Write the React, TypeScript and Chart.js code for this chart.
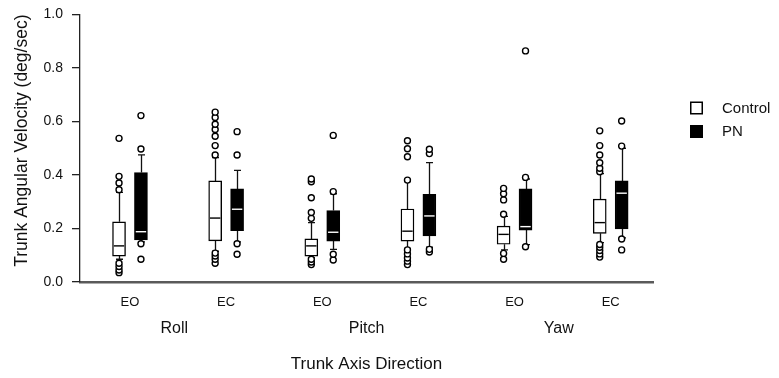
import React, { useEffect, useRef } from 'react';
import { Chart, registerables } from 'chart.js';

Chart.register(...registerables);

// ---- data ----
const conditions = ['EO', 'EC', 'EO', 'EC', 'EO', 'EC'];
const conditionPositions = [0, 1, 2, 3, 4, 5];
const groups = ['Roll', 'Pitch', 'Yaw'];
const groupPositions = [0.46, 2.46, 4.46];
const yTickValues = [0, 0.2, 0.4, 0.6, 0.8, 1.0];

const controlLow = [0.085, 0.115, 0.09, 0.126, 0.12, 0.147];
const controlQ1 = [0.097, 0.154, 0.097, 0.153, 0.141, 0.182];
const controlMedian = [0.135, 0.239, 0.135, 0.19, 0.178, 0.222];
const controlQ3 = [0.225, 0.378, 0.161, 0.273, 0.209, 0.31];
const controlHigh = [0.335, 0.465, 0.222, 0.375, 0.245, 0.405];
const controlOutliers = [
  [0.035, 0.045, 0.058, 0.07, 0.345, 0.37, 0.395, 0.537],
  [0.07, 0.085, 0.097, 0.108, 0.475, 0.51, 0.545, 0.57, 0.59, 0.615, 0.635],
  [0.065, 0.075, 0.085, 0.238, 0.26, 0.315, 0.375, 0.385],
  [0.065, 0.078, 0.09, 0.105, 0.12, 0.381, 0.468, 0.498, 0.528],
  [0.085, 0.107, 0.253, 0.307, 0.33, 0.35],
  [0.093, 0.105, 0.118, 0.13, 0.14, 0.412, 0.425, 0.446, 0.475, 0.51, 0.565],
];

const pnLow = [0.15, 0.15, 0.122, 0.13, 0.14, 0.165];
const pnQ1 = [0.157, 0.192, 0.153, 0.172, 0.194, 0.198];
const pnMedian = [0.188, 0.272, 0.186, 0.247, 0.207, 0.332];
const pnQ3 = [0.409, 0.348, 0.267, 0.328, 0.348, 0.378];
const pnHigh = [0.475, 0.417, 0.33, 0.446, 0.385, 0.5];
const pnOutliers = [
  [0.085, 0.143, 0.497, 0.622],
  [0.104, 0.143, 0.475, 0.562],
  [0.082, 0.104, 0.338, 0.548],
  [0.112, 0.122, 0.48, 0.496],
  [0.132, 0.391, 0.864],
  [0.12, 0.161, 0.508, 0.602],
];

const seriesNames = ['Control', 'PN'];

// ---- styling ----
const FONT = "'Liberation Sans', Arial, Helvetica, sans-serif";
const GROUP_OFFSET = 0.114;

const series = [
  { name: seriesNames[0], offset: -GROUP_OFFSET, low: controlLow, q1: controlQ1, median: controlMedian, q3: controlQ3, high: controlHigh, outliers: controlOutliers, fill: '#ffffff', medianColor: '#000000' },
  { name: seriesNames[1], offset: GROUP_OFFSET, low: pnLow, q1: pnQ1, median: pnMedian, q3: pnQ3, high: pnHigh, outliers: pnOutliers, fill: '#000000', medianColor: '#ffffff' },
];

const boxPlugin = {
  id: 'boxWhiskers',
  beforeDatasetsDraw(chart: any) {
    const { ctx, scales } = chart;
    const x = scales.x;
    const y = scales.y;
    ctx.save();
    ctx.strokeStyle = '#111';
    ctx.lineWidth = 1.3;
    const cap = 3.5;
    series.forEach((s) => {
      conditionPositions.forEach((p, i) => {
        const px = Math.round(x.getPixelForValue(p + s.offset)) + 0.5;
        const lo = y.getPixelForValue(s.low[i]);
        const q1 = y.getPixelForValue(s.q1[i]);
        const q3 = y.getPixelForValue(s.q3[i]);
        const hi = y.getPixelForValue(s.high[i]);
        ctx.beginPath();
        ctx.moveTo(px, q3);
        ctx.lineTo(px, hi);
        ctx.moveTo(px - cap, hi);
        ctx.lineTo(px + cap, hi);
        ctx.moveTo(px, q1);
        ctx.lineTo(px, lo);
        ctx.moveTo(px - cap, lo);
        ctx.lineTo(px + cap, lo);
        ctx.stroke();
      });
    });
    ctx.restore();
  },
  afterDatasetsDraw(chart: any) {
    const { ctx, scales } = chart;
    const y = scales.y;
    ctx.save();
    ctx.lineWidth = 1.4;
    series.forEach((s, di) => {
      const meta = chart.getDatasetMeta(di);
      meta.data.forEach((bar: any, i: number) => {
        const py = y.getPixelForValue(s.median[i]);
        const half = bar.width / 2 - 1.3;
        ctx.strokeStyle = s.medianColor;
        ctx.beginPath();
        ctx.moveTo(bar.x - half, py);
        ctx.lineTo(bar.x + half, py);
        ctx.stroke();
      });
    });
    ctx.restore();
  },
  afterDraw(chart: any) {
    const { ctx, chartArea } = chart;
    ctx.save();
    const left = chartArea.right + 37;
    const size = 13;
    const tops = [101.5, 125];
    series.forEach((s, i) => {
      ctx.fillStyle = s.fill;
      ctx.fillRect(left, tops[i], size, size);
      ctx.strokeStyle = '#000';
      ctx.lineWidth = 1.5;
      ctx.strokeRect(left + 0.75, tops[i] + 0.75, size - 1.5, size - 1.5);
      ctx.fillStyle = '#111';
      ctx.font = `15px ${FONT}`;
      ctx.textBaseline = 'middle';
      ctx.textAlign = 'left';
      ctx.fillText(s.name, left + 32, tops[i] + size / 2 + 0.5);
    });
    ctx.restore();
  },
};

export default function App() {
  const canvasRef = useRef<HTMLCanvasElement | null>(null);

  useEffect(() => {
    const canvas = canvasRef.current;
    if (!canvas) return;

    const datasets: any[] = [];
    series.forEach((s) => {
      datasets.push({
        type: 'bar',
        label: s.name,
        data: conditionPositions.map((p, i) => ({ x: p + s.offset, y: [s.q1[i], s.q3[i]] })),
        backgroundColor: s.fill,
        borderColor: '#000',
        borderWidth: 1.4,
        borderSkipped: false,
        barThickness: 13,
        grouped: false,
        xAxisID: 'x',
        yAxisID: 'y',
      });
    });
    series.forEach((s) => {
      const pts: any[] = [];
      conditionPositions.forEach((p, i) => {
        s.outliers[i].forEach((v) => pts.push({ x: p + s.offset, y: v }));
      });
      datasets.push({
        type: 'scatter',
        label: s.name + ' outliers',
        data: pts,
        pointRadius: 3,
        pointBorderWidth: 1.4,
        pointBackgroundColor: '#ffffff',
        pointBorderColor: '#000000',
        showLine: false,
        xAxisID: 'x',
        yAxisID: 'y',
      });
    });

    const chart = new Chart(canvas, {
      type: 'bar',
      data: { datasets },
      options: {
        animation: false,
        responsive: false,
        devicePixelRatio: 1,
        layout: { padding: { top: 14.5, right: 126, left: 0, bottom: 0 } },
        plugins: { legend: { display: false }, tooltip: { enabled: false } },
        scales: {
          x: {
            type: 'linear',
            position: 'bottom',
            weight: 1,
            min: -0.52,
            max: 5.44,
            offset: false,
            grid: { display: false, offset: false, drawTicks: false },
            border: { display: true, color: '#5a5a5a', width: 2.5 },
            afterBuildTicks: (scale: any) => {
              scale.ticks = conditionPositions.map((v) => ({ value: v }));
            },
            afterFit: (scale: any) => {
              scale.height = 32;
            },
            ticks: {
              autoSkip: false,
              maxRotation: 0,
              padding: 13,
              color: '#111',
              font: { size: 13, family: FONT },
              callback: (_v: any, i: number) => conditions[i],
            },
          },
          x2: {
            type: 'linear',
            position: 'bottom',
            weight: 2,
            min: -0.52,
            max: 5.44,
            offset: false,
            grid: { display: false, offset: false, drawTicks: false },
            border: { display: false },
            afterBuildTicks: (scale: any) => {
              scale.ticks = groupPositions.map((v) => ({ value: v }));
            },
            afterFit: (scale: any) => {
              scale.height = 64;
            },
            ticks: {
              autoSkip: false,
              maxRotation: 0,
              padding: 5,
              color: '#111',
              font: { size: 16, family: FONT },
              callback: (_v: any, i: number) => groups[i],
            },
            title: {
              display: true,
              text: 'Trunk Axis Direction',
              color: '#111',
              font: { size: 17, family: FONT },
              padding: { top: 0, bottom: 3 },
            },
          },
          y: {
            type: 'linear',
            position: 'left',
            min: 0,
            max: 1,
            afterBuildTicks: (scale: any) => {
              scale.ticks = yTickValues.map((v) => ({ value: v }));
            },
            afterFit: (scale: any) => {
              scale.width = 80;
              scale.paddingTop = 0;
              scale.paddingBottom = 0;
            },
            grid: { display: true, drawOnChartArea: false, drawTicks: true, tickLength: 8, color: '#222', lineWidth: 1.3 },
            border: { display: true, color: '#222', width: 1.3 },
            ticks: {
              padding: 9,
              color: '#111',
              font: { size: 14, family: FONT },
              callback: (v: any) => Number(v).toFixed(1),
            },
            title: {
              display: true,
              align: 'end',
              text: 'Trunk Angular Velocity (deg/sec)',
              color: '#111',
              font: { size: 17.5, family: FONT },
              padding: { top: 12, bottom: 0 },
            },
          },
        },
      } as any,
      plugins: [boxPlugin],
    });

    return () => chart.destroy();
  }, []);

  return (
    <div style={{ position: 'absolute', left: 0, top: 0, width: 779, height: 378, background: '#fff' }}>
      <canvas ref={canvasRef} width={779} height={378} style={{ display: 'block' }} />
    </div>
  );
}
